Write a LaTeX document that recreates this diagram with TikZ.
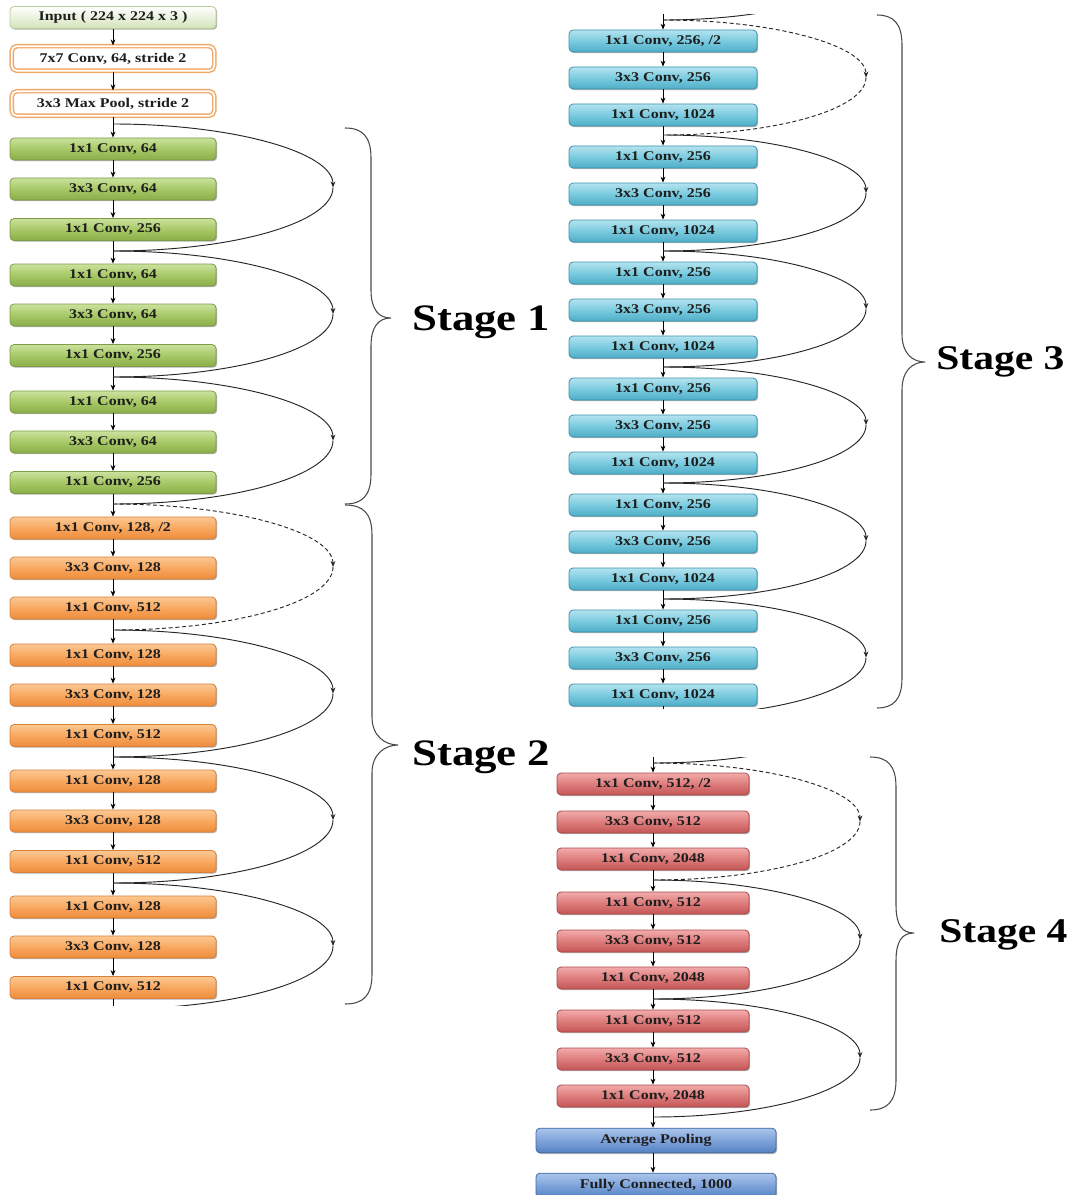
\documentclass[tikz,border=0pt]{standalone}
\usepackage{fontspec}
\setmainfont{Liberation Serif}[FakeStretch=1.2]
\usetikzlibrary{arrows.meta,shadows}

\definecolor{txt}{HTML}{1E1E1E}
\definecolor{gTop}{HTML}{CBE29E}
\definecolor{gMid}{HTML}{A7C866}
\definecolor{gBot}{HTML}{8AAE48}
\definecolor{gLine}{HTML}{7C9C45}
\definecolor{oTop}{HTML}{FCC892}
\definecolor{oMid}{HTML}{F8A860}
\definecolor{oBot}{HTML}{EE8B3A}
\definecolor{oLine}{HTML}{D9803A}
\definecolor{cTop}{HTML}{B4E3EF}
\definecolor{cMid}{HTML}{7ACBDF}
\definecolor{cBot}{HTML}{4EAEC7}
\definecolor{cLine}{HTML}{3C94AC}
\definecolor{rTop}{HTML}{F2ABAB}
\definecolor{rMid}{HTML}{DE7C7C}
\definecolor{rBot}{HTML}{C45656}
\definecolor{rLine}{HTML}{A84A4A}
\definecolor{bTop}{HTML}{AAC5EB}
\definecolor{bMid}{HTML}{7FA3DA}
\definecolor{bBot}{HTML}{5382C3}
\definecolor{bLine}{HTML}{3F69A3}
\definecolor{inTop}{HTML}{FFFFFF}
\definecolor{inBot}{HTML}{D3E3B8}
\definecolor{inLine}{HTML}{B9CC9C}
\definecolor{poolLine}{HTML}{F2A867}
\definecolor{braceCol}{HTML}{4A4A4A}

\tikzset{
  layer/.style={rounded corners=3pt, inner sep=0pt, minimum height=16.5pt,
    font=\bfseries\fontsize{10}{12}\selectfont, text=txt, line width=0.6pt,
    drop shadow={shadow xshift=0.9pt, shadow yshift=-0.9pt, opacity=0.3, fill=black}},
  green layer/.style={layer, minimum width=154.5pt, draw=gLine,
    top color=gTop, bottom color=gBot, middle color=gMid},
  orange layer/.style={layer, minimum width=154.5pt, draw=oLine,
    top color=oTop, bottom color=oBot, middle color=oMid},
  cyan layer/.style={layer, minimum width=141pt, draw=cLine,
    top color=cTop, bottom color=cBot, middle color=cMid},
  red layer/.style={layer, minimum width=144pt, draw=rLine,
    top color=rTop, bottom color=rBot, middle color=rMid},
  blue layer/.style={layer, minimum width=180pt, minimum height=18.5pt, draw=bLine,
    top color=bTop, bottom color=bBot, middle color=bMid},
  input layer/.style={layer, minimum width=154.5pt, draw=inLine,
    top color=inTop, bottom color=inBot},
  stem layer/.style={rounded corners=4pt, inner sep=0pt, minimum width=152pt, minimum height=18.5pt,
    font=\bfseries\fontsize{10}{12}\selectfont, text=txt, fill=white,
    draw=poolLine, line width=1.1pt, double=white, double distance=1.3pt},
  flow/.style={draw=black, line width=0.7pt, -{Stealth[length=4.5pt,width=3.6pt]}},
  skipline/.style={draw=black!85, line width=0.7pt},
  shortcut/.style={skipline, dash pattern=on 3pt off 2pt},
  brace/.style={draw=braceCol, line width=0.8pt},
  stagelbl/.style={anchor=west, inner sep=0pt, font=\bfseries\fontsize{28}{32}\selectfont, text=black},
  stagelbl small/.style={stagelbl, font=\bfseries\fontsize{26}{30}\selectfont}
}

% residual connection: first half ends with a tip at the outer point
\newcommand\resskip[6]{%
  \draw[#6,-{Stealth[length=4.5pt,width=3.6pt]}] (#1) .. controls +(#4,0) and +(0,-#5) .. (#2);
  \draw[#6] (#2) .. controls +(0,#5) and +(#4,0) .. (#3);
}
% curly brace: left end x, top y, bottom y, spine x, tip x, tip y
\newcommand\stagebrace[6]{%
  \draw[brace] (#1,#2) .. controls (#4-9,#2) and (#4,#2+8) .. (#4,#2+30)
    -- (#4,#6-28) .. controls (#4,#6-8) and (#5-12,#6) .. (#5,#6)
    .. controls (#5-12,#6) and (#4,#6+8) .. (#4,#6+28)
    -- (#4,#3-30) .. controls (#4,#3-8) and (#4-9,#3) .. (#1,#3);
}

\begin{document}
\begin{tikzpicture}[x=0.75pt,y=-0.75pt]
\useasboundingbox[fill=white] (0,0) rectangle (1072,1195);

%---------------- stem ----------------
\node[input layer] (inp) at (113,17.5) {Input ( 224 x 224 x 3 )};
\node[stem layer] (c7) at (113,58.5) {7x7 Conv, 64, stride 2};
\node[stem layer] (mp) at (113,103.5) {3x3 Max Pool, stride 2};

%---------------- stage 1 ----------------
\foreach \b/\y in {1/149,2/275,3/402}{
  \node[green layer] (s1-\b-a) at (113,\y) {1x1 Conv, 64};
  \node[green layer] (s1-\b-b) at (113,\y+40) {3x3 Conv, 64};
  \node[green layer] (s1-\b-c) at (113,\y+80.5) {1x1 Conv, 256};
}

%---------------- stage 2 ----------------
\node[orange layer] (s2-1-a) at (113,528) {1x1 Conv, 128, /2};
\node[orange layer] (s2-1-b) at (113,568) {3x3 Conv, 128};
\node[orange layer] (s2-1-c) at (113,608) {1x1 Conv, 512};
\foreach \b/\y in {2/655,3/781,4/907}{
  \node[orange layer] (s2-\b-a) at (113,\y) {1x1 Conv, 128};
  \node[orange layer] (s2-\b-b) at (113,\y+40) {3x3 Conv, 128};
  \node[orange layer] (s2-\b-c) at (113,\y+80.5) {1x1 Conv, 512};
}

%---------------- stage 3 ----------------
\node[cyan layer] (s3-1-a) at (663,41) {1x1 Conv, 256, /2};
\node[cyan layer] (s3-1-b) at (663,78) {3x3 Conv, 256};
\node[cyan layer] (s3-1-c) at (663,115) {1x1 Conv, 1024};
\foreach \b/\y in {2/157,3/273,4/389,5/505,6/621}{
  \node[cyan layer] (s3-\b-a) at (663,\y) {1x1 Conv, 256};
  \node[cyan layer] (s3-\b-b) at (663,\y+37) {3x3 Conv, 256};
  \node[cyan layer] (s3-\b-c) at (663,\y+74) {1x1 Conv, 1024};
}

%---------------- stage 4 ----------------
\node[red layer] (s4-1-a) at (653,784) {1x1 Conv, 512, /2};
\node[red layer] (s4-1-b) at (653,822) {3x3 Conv, 512};
\node[red layer] (s4-1-c) at (653,859) {1x1 Conv, 2048};
\foreach \b/\y in {2/903,3/1021}{
  \node[red layer] (s4-\b-a) at (653,\y) {1x1 Conv, 512};
  \node[red layer] (s4-\b-b) at (653,\y+38) {3x3 Conv, 512};
  \node[red layer] (s4-\b-c) at (653,\y+75) {1x1 Conv, 2048};
}

%---------------- head ----------------
\node[blue layer] (avg) at (656,1140.5) {Average Pooling};
\node[blue layer] (fc) at (656,1185.5) {Fully Connected, 1000};

%---------------- junctions on the main path ----------------
\foreach \k/\y in {0/124,1/251,2/377,3/504}{\coordinate (s1j\k) at (113,\y);}
\foreach \k/\y in {1/630,2/757,3/883,4/1009}{\coordinate (s2j\k) at (113,\y);}
\foreach \k/\y in {0/20,1/135,2/251,3/367,4/483,5/599,6/716}{\coordinate (s3j\k) at (663,\y);}
\foreach \k/\y in {0/763,1/880,2/999,3/1117}{\coordinate (s4j\k) at (653,\y);}
\coordinate (s3prev) at (663,-96);
\coordinate (s3pm) at (866,-38);
\coordinate (s4prev) at (653,646);
\coordinate (s4pm) at (860,704.5);

% outer points of the residual connections
\foreach \k/\y in {1/187.5,2/314,3/440.5}{\coordinate (s1m\k) at (333,\y);}
\foreach \k/\y in {1/567,2/693.5,3/820,4/946}{\coordinate (s2m\k) at (333,\y);}
\foreach \k/\y in {1/77.5,2/193,3/309,4/425,5/541,6/657.5}{\coordinate (s3m\k) at (866,\y);}
\foreach \k/\y in {1/821.5,2/939.5,3/1058}{\coordinate (s4m\k) at (860,\y);}

%---------------- left column connectors ----------------
\begin{scope}
\clip (0,0) rectangle (345,1005);
\draw[flow] (inp) -- (c7);
\draw[flow] (c7) -- (mp);
\draw[flow] (mp) -- (s1-1-a);
\foreach \b in {1,2,3}{
  \draw[flow] (s1-\b-a) -- (s1-\b-b);
  \draw[flow] (s1-\b-b) -- (s1-\b-c);
}
\draw[flow] (s1-1-c) -- (s1-2-a);
\draw[flow] (s1-2-c) -- (s1-3-a);
\draw[flow] (s1-3-c) -- (s2-1-a);
\foreach \b in {1,2,3,4}{
  \draw[flow] (s2-\b-a) -- (s2-\b-b);
  \draw[flow] (s2-\b-b) -- (s2-\b-c);
}
\draw[flow] (s2-1-c) -- (s2-2-a);
\draw[flow] (s2-2-c) -- (s2-3-a);
\draw[flow] (s2-3-c) -- (s2-4-a);
\draw[flow,-] (s2-4-c) -- (s2j4);

\resskip{s1j0}{s1m1}{s1j1}{121}{35}{skipline}
\resskip{s1j1}{s1m2}{s1j2}{121}{35}{skipline}
\resskip{s1j2}{s1m3}{s1j3}{121}{35}{skipline}
\resskip{s1j3}{s2m1}{s2j1}{121}{35}{shortcut}
\resskip{s2j1}{s2m2}{s2j2}{121}{35}{skipline}
\resskip{s2j2}{s2m3}{s2j3}{121}{35}{skipline}
\resskip{s2j3}{s2m4}{s2j4}{121}{35}{skipline}
\end{scope}

%---------------- stage 3 connectors ----------------
\begin{scope}
\clip (540,15) rectangle (890,708);
\draw[flow] (s3prev) -- (s3-1-a);
\foreach \b in {1,...,6}{
  \draw[flow] (s3-\b-a) -- (s3-\b-b);
  \draw[flow] (s3-\b-b) -- (s3-\b-c);
}
\foreach \b/\n in {1/2,2/3,3/4,4/5,5/6}{\draw[flow] (s3-\b-c) -- (s3-\n-a);}
\draw[flow,-] (s3-6-c) -- (s3j6);
\draw[skipline] (s3pm) .. controls +(0,32) and +(112,0) .. (s3j0);
\resskip{s3j0}{s3m1}{s3j1}{112}{32}{shortcut}
\resskip{s3j1}{s3m2}{s3j2}{112}{32}{skipline}
\resskip{s3j2}{s3m3}{s3j3}{112}{32}{skipline}
\resskip{s3j3}{s3m4}{s3j4}{112}{32}{skipline}
\resskip{s3j4}{s3m5}{s3j5}{112}{32}{skipline}
\resskip{s3j5}{s3m6}{s3j6}{112}{32}{skipline}
\end{scope}

%---------------- stage 4 connectors ----------------
\begin{scope}
\clip (500,757) rectangle (890,1195);
\draw[flow] (s4prev) -- (s4-1-a);
\foreach \b in {1,2,3}{
  \draw[flow] (s4-\b-a) -- (s4-\b-b);
  \draw[flow] (s4-\b-b) -- (s4-\b-c);
}
\draw[flow] (s4-1-c) -- (s4-2-a);
\draw[flow] (s4-2-c) -- (s4-3-a);
\draw[flow] (s4-3-c) -- (s4-3-c |- avg.north);
\draw[flow] (avg.south -| s4-3-c) -- (fc.north -| s4-3-c);
\draw[skipline] (s4pm) .. controls +(0,32) and +(114,0) .. (s4j0);
\resskip{s4j0}{s4m1}{s4j1}{114}{32.5}{shortcut}
\resskip{s4j1}{s4m2}{s4j2}{114}{32.5}{skipline}
\resskip{s4j2}{s4m3}{s4j3}{114}{32.5}{skipline}
\end{scope}

%---------------- braces and stage labels ----------------
\stagebrace{345}{128}{504}{371}{391}{318}
\stagebrace{345}{505}{1004}{372}{398}{745}
\stagebrace{877}{15}{708}{902}{925}{362}
\stagebrace{870}{757}{1110}{896}{914}{933}

\node[stagelbl] (st1) at (412,322) {Stage 1};
\node[stagelbl] (st2) at (412,757) {Stage 2};
\node[stagelbl small] (st3) at (936,362) {Stage 3};
\node[stagelbl small] (st4) at (939,935) {Stage 4};
\end{tikzpicture}
\end{document}
